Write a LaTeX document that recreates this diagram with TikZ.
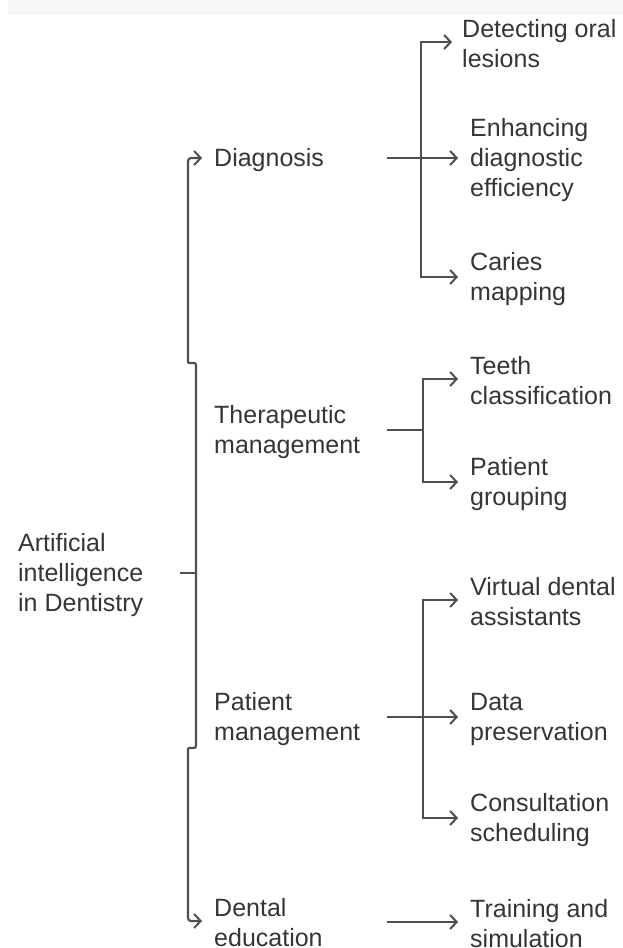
\documentclass[tikz,border=0pt]{standalone}
\usepackage{fontspec}
\setmainfont{Liberation Sans}
\usetikzlibrary{arrows.meta}
\definecolor{txt}{HTML}{353535}
\definecolor{ln}{HTML}{4F4F4F}
\begin{document}
\begin{tikzpicture}[x=1pt,y=-1pt,
  lbl/.style={anchor=west, align=left, inner sep=0pt, text=txt, yshift=-2pt,
    font=\fontsize{25}{30}\selectfont},
  conn/.style={draw=ln, line width=2.2pt},
  arr/.style={conn, -{Straight Barb[length=6.5pt,width=14pt,line width=2pt]},
    shorten >=12pt},
]
\useasboundingbox (0,0) rectangle (623,948);
\fill[gray!6] (8,0) rectangle (623,15);

% root and first level
\node[lbl] (root) at (18,573) {Artificial\\intelligence\\in Dentistry};
\node[lbl] (diag) at (214,158) {Diagnosis};
\node[lbl] (ther) at (214,430) {Therapeutic\\management};
\node[lbl] (pman) at (214,717) {Patient\\management};
\node[lbl] (edu)  at (214,921) {Dental\\education};

% leaves
\node[lbl] (det) at (462,42)  {Detecting oral\\lesions};
\node[lbl] (enh) at (470,158) {Enhancing\\diagnostic\\efficiency};
\node[lbl] (car) at (470,277) {Caries\\mapping};
\node[lbl] (tee) at (470,379) {Teeth\\classification};
\node[lbl] (pgr) at (470,482) {Patient\\grouping};
\node[lbl] (vir) at (470,600) {Virtual dental\\assistants};
\node[lbl] (dat) at (470,717) {Data\\preservation};
\node[lbl] (con) at (470,818) {Consultation\\scheduling};
\node[lbl] (tra) at (470,922) {Training and\\simulation};

% main brace
\coordinate (rt) at (180,573);
\coordinate (j1) at (188,363);
\coordinate (j2) at (196,363);
\coordinate (j3) at (196,748);
\coordinate (j4) at (188,748);
\draw[arr,rounded corners=3pt] (j1) |- ([yshift=2pt]diag.west);
\draw[conn,rounded corners=2pt] (j1) -- (j2) -- (j3) -- (j4);
\draw[arr,rounded corners=3pt] (j4) |- ([yshift=2pt]edu.west);
\draw[conn] (rt) -- (rt -| j2);

% diagnosis branches
\coordinate (dOut) at (387,158);
\coordinate (dV) at (421,158);
\draw[arr] (dOut) -- ([yshift=2pt]enh.west);
\draw[arr, shorten >=10pt] (dV) |- ([yshift=2pt]det.west);
\draw[arr] (dV) |- ([yshift=2pt]car.west);

% therapeutic branches
\coordinate (tOut) at (387,430);
\coordinate (tV) at (423,430);
\draw[conn] (tOut) -- (tV);
\draw[arr] (tV) |- ([yshift=2pt]tee.west);
\draw[arr] (tV) |- ([yshift=2pt]pgr.west);

% patient management branches
\coordinate (pOut) at (387,717);
\coordinate (pV) at (423,717);
\draw[arr] (pOut) -- ([yshift=2pt]dat.west);
\draw[arr] (pV) |- ([yshift=2pt]vir.west);
\draw[arr] (pV) |- ([yshift=2pt]con.west);

% education branch
\coordinate (eOut) at (387,922);
\draw[arr] (eOut) -- ([yshift=2pt]tra.west);
\end{tikzpicture}
\end{document}
